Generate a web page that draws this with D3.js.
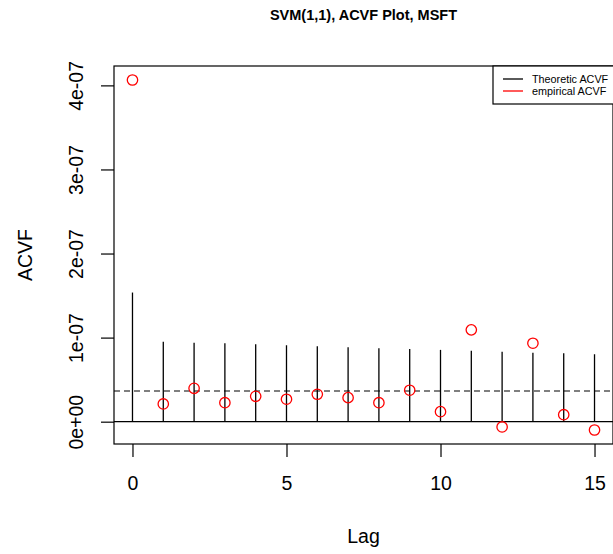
<!DOCTYPE html>
<html>
<head>
<meta charset="utf-8">
<script src="https://cdn.jsdelivr.net/npm/d3@7"></script>
<style>
  body { margin: 0; background: #fff; }
  svg { display: block; font-family: "Liberation Sans", Arial, Helvetica, sans-serif; }
</style>
</head>
<body>
<div id="chart"></div>
<script>
// ACVF plot: theoretic (vertical lines) vs empirical (red circles)

const lags = [0, 1, 2, 3, 4, 5, 6, 7, 8, 9, 10, 11, 12, 13, 14, 15];
const theoretic = [1.536e-7, 0.952e-7, 0.940e-7, 0.933e-7, 0.921e-7, 0.909e-7, 0.897e-7, 0.886e-7,
                   0.874e-7, 0.865e-7, 0.854e-7, 0.845e-7, 0.833e-7, 0.821e-7, 0.814e-7, 0.802e-7];
const empirical = [4.064e-7, 0.211e-7, 0.397e-7, 0.226e-7, 0.302e-7, 0.267e-7, 0.326e-7, 0.286e-7,
                   0.226e-7, 0.374e-7, 0.119e-7, 1.092e-7, -0.063e-7, 0.933e-7, 0.083e-7, -0.099e-7];
const meanLevel = 0.365e-7;

const xTicks = [0, 5, 10, 15];
const yTicks = [0, 1e-7, 2e-7, 3e-7, 4e-7];
const yTickLabels = ["0e+00", "1e-07", "2e-07", "3e-07", "4e-07"];
const legendLabels = ["Theoretic ACVF", "empirical ACVF"];
const legendColors = ["#000", "#ff0000"];

const width = 613;
const height = 554;
const box = { left: 114, top: 66, right: 613, bottom: 444 };

// R-style 4% range extension
function extend(ext) {
    const pad = (ext[1] - ext[0]) * 0.04;
    return [ext[0] - pad, ext[1] + pad];
}

const x = d3.scaleLinear()
    .domain(extend(d3.extent(lags)))
    .range([box.left, box.right]);

const y = d3.scaleLinear()
    .domain(extend(d3.extent(theoretic.concat(empirical))))
    .range([box.bottom, box.top]);

const svg = d3.select("#chart").append("svg")
    .attr("width", width)
    .attr("height", height);

// title
svg.append("text")
    .attr("x", (box.left + box.right) / 2)
    .attr("y", 20)
    .attr("text-anchor", "middle")
    .attr("font-weight", "bold")
    .attr("font-size", "14.5px")
    .text("SVM(1,1), ACVF Plot, MSFT");

// axes
const xAxis = svg.append("g")
    .attr("transform", `translate(0,${box.bottom})`)
    .call(d3.axisBottom(x).tickValues(xTicks).tickSize(13).tickSizeOuter(0));
xAxis.select(".domain").remove();
xAxis.selectAll("line").attr("stroke", "#000").attr("stroke-width", 1.2);
xAxis.selectAll("text")
    .attr("y", 46)
    .attr("dy", 0)
    .attr("font-size", "19.5px")
    .attr("font-family", "Liberation Sans, Arial, sans-serif")
    .attr("fill", "#000");

const yAxis = svg.append("g")
    .attr("transform", `translate(${box.left},0)`)
    .call(d3.axisLeft(y).tickValues(yTicks).tickSize(13).tickSizeOuter(0)
        .tickFormat((d, i) => yTickLabels[i]));
yAxis.select(".domain").remove();
yAxis.selectAll("line").attr("stroke", "#000").attr("stroke-width", 1.2);
yAxis.selectAll("text")
    .attr("transform", "rotate(-90)")
    .attr("x", 0)
    .attr("y", -31)
    .attr("dy", 0)
    .attr("text-anchor", "middle")
    .attr("font-size", "19.5px")
    .attr("font-family", "Liberation Sans, Arial, sans-serif")
    .attr("fill", "#000");

// axis titles
svg.append("text")
    .attr("x", (box.left + box.right) / 2)
    .attr("y", 543)
    .attr("text-anchor", "middle")
    .attr("font-size", "19.5px")
    .text("Lag");

svg.append("text")
    .attr("transform", `translate(32,${(box.top + box.bottom) / 2}) rotate(-90)`)
    .attr("text-anchor", "middle")
    .attr("font-size", "19.5px")
    .text("ACVF");

// zero line and mean level
svg.append("line")
    .attr("x1", box.left).attr("x2", box.right)
    .attr("y1", y(0)).attr("y2", y(0))
    .attr("stroke", "#000")
    .attr("stroke-width", 1.2);

svg.append("line")
    .attr("x1", box.left).attr("x2", box.right)
    .attr("y1", y(meanLevel)).attr("y2", y(meanLevel))
    .attr("stroke", "#000")
    .attr("stroke-width", 1.2)
    .attr("stroke-dasharray", "6,4");

// theoretic ACVF spikes
svg.append("g").selectAll("line")
    .data(lags)
    .join("line")
    .attr("x1", d => x(d)).attr("x2", d => x(d))
    .attr("y1", y(0))
    .attr("y2", (d, i) => y(theoretic[i]))
    .attr("stroke", "#000")
    .attr("stroke-width", 1.3);

// empirical ACVF points
svg.append("g").selectAll("circle")
    .data(lags)
    .join("circle")
    .attr("cx", d => x(d))
    .attr("cy", (d, i) => y(empirical[i]))
    .attr("r", 5.2)
    .attr("fill", "none")
    .attr("stroke", "#ff0000")
    .attr("stroke-width", 1.3);

// plot box
svg.append("rect")
    .attr("x", box.left)
    .attr("y", box.top)
    .attr("width", box.right - box.left)
    .attr("height", box.bottom - box.top)
    .attr("fill", "none")
    .attr("stroke", "#000")
    .attr("stroke-width", 1.2);

// legend
const lg = svg.append("g").attr("transform", `translate(493,${box.top})`);
lg.append("rect")
    .attr("width", box.right - 493 + 2)
    .attr("height", 38)
    .attr("fill", "#fff")
    .attr("stroke", "#000")
    .attr("stroke-width", 1.2);

legendLabels.forEach((label, i) => {
    const ly = 13 + i * 12;
    lg.append("line")
        .attr("x1", 10).attr("x2", 30)
        .attr("y1", ly).attr("y2", ly)
        .attr("stroke", legendColors[i])
        .attr("stroke-width", 1.3);
    lg.append("text")
        .attr("x", 39)
        .attr("y", ly)
        .attr("dy", "0.35em")
        .attr("font-size", "10.8px")
        .text(label);
});
</script>
</body>
</html>
